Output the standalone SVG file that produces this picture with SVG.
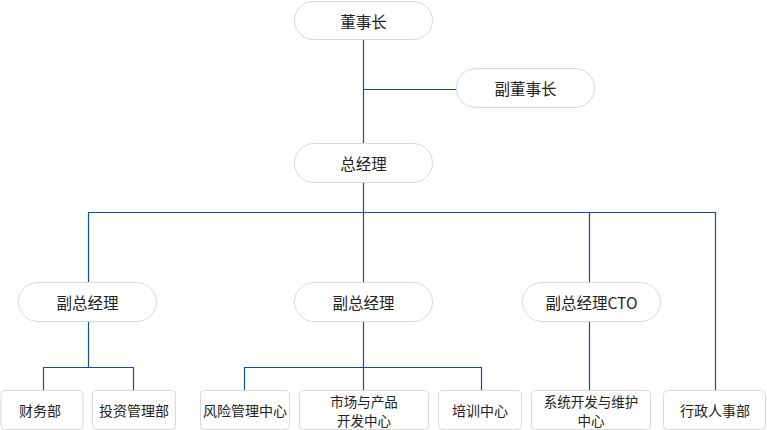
<svg xmlns="http://www.w3.org/2000/svg" width="767" height="430" viewBox="0 0 767 430">
<style>
.pill{fill:#fff;stroke:#d9d9d9;stroke-width:1}
.box{fill:#fff;stroke:#d9d9d9;stroke-width:1}
.t{font-family:"Noto Sans CJK SC","Noto Sans",sans-serif;fill:#222;text-anchor:middle;dominant-baseline:central}
.big{font-size:15.5px}
.small{font-size:14px}
.two{font-size:13.5px}
.c{fill:none;stroke:#0b4f9c;stroke-width:1.2}
</style>
<rect width="767" height="430" fill="#fff"/>
<g id="connectors">
<path class="c" d="M363.5 39V143M363.5 89.5H456M363.5 182V212.5M88.5 282V212.5H715.5V390M363.5 212.5V282M589.5 212.5V282"/>
<path class="c" d="M88.5 321V367.5M43.5 390V367.5H133.5V390"/>
<path class="c" d="M363.5 321V390M244.5 390V367.5H481.5V390"/>
<path class="c" d="M589.5 321V390"/>
</g>
<g id="n1"><rect class="pill" x="294.5" y="1.5" width="138" height="38" rx="19"/><text class="t big" x="363.5" y="20.5">董事长</text></g>
<g id="n2"><rect class="pill" x="456.5" y="68.5" width="138" height="39" rx="19.5"/><text class="t big" x="525.5" y="88">副董事长</text></g>
<g id="n3"><rect class="pill" x="294.5" y="143.5" width="138" height="39" rx="19.5"/><text class="t big" x="363.5" y="163">总经理</text></g>
<g id="n4"><rect class="pill" x="18.5" y="282.5" width="138" height="39" rx="19.5"/><text class="t big" x="87.5" y="302">副总经理</text></g>
<g id="n5"><rect class="pill" x="294.5" y="282.5" width="138" height="39" rx="19.5"/><text class="t big" x="363.5" y="302">副总经理</text></g>
<g id="n6"><rect class="pill" x="522.5" y="282.5" width="138" height="39" rx="19.5"/><text class="t big" x="591.5" y="302">副总经理CTO</text></g>
<g id="b1"><rect class="box" x="1" y="390.5" width="82" height="39" rx="4"/><text class="t small" x="40" y="410">财务部</text></g>
<g id="b2"><rect class="box" x="92.5" y="390.5" width="83" height="39" rx="4"/><text class="t small" x="134" y="410">投资管理部</text></g>
<g id="b3"><rect class="box" x="200.5" y="390.5" width="89" height="39" rx="4"/><text class="t small" x="245" y="410">风险管理中心</text></g>
<g id="b4"><rect class="box" x="299.5" y="390.5" width="129" height="39" rx="4"/><text class="t two" x="364" y="400.5">市场与产品</text><text class="t two" x="364" y="420">开发中心</text></g>
<g id="b5"><rect class="box" x="438.5" y="390.5" width="83" height="39" rx="4"/><text class="t small" x="480" y="410">培训中心</text></g>
<g id="b6"><rect class="box" x="531.5" y="390.5" width="119" height="39" rx="4"/><text class="t two" x="591" y="400.5">系统开发与维护</text><text class="t two" x="591" y="420">中心</text></g>
<g id="b7"><rect class="box" x="663.5" y="390.5" width="102" height="39" rx="4"/><text class="t small" x="715" y="410">行政人事部</text></g>
</svg>
